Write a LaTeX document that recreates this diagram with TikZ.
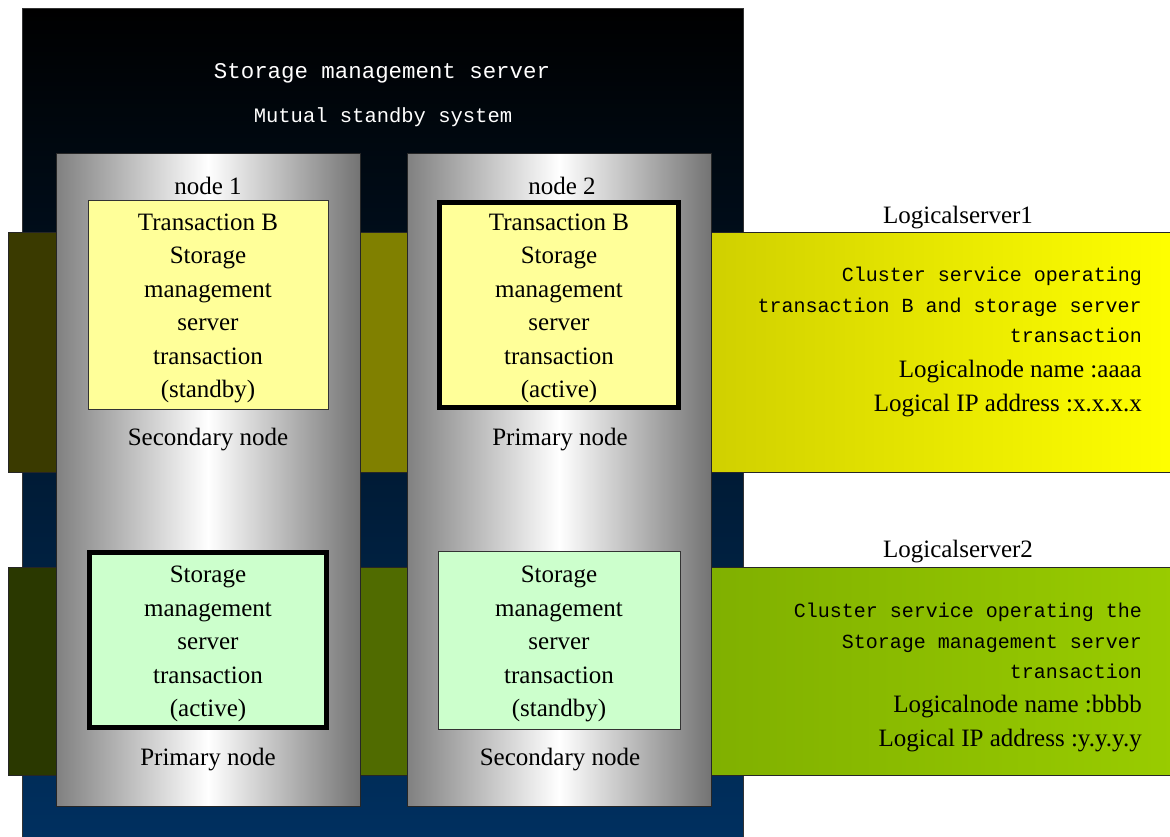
\documentclass[tikz,border=0pt]{standalone}
\usepackage{fontspec}
\setmainfont{Liberation Serif}
\setmonofont{Liberation Mono}
\usetikzlibrary{positioning}
\definecolor{bgtop}{RGB}{0,0,0}
\definecolor{bgmid}{RGB}{0,38,76}
\definecolor{bgbot}{RGB}{0,48,96}
\definecolor{colgray}{RGB}{128,128,128}
\definecolor{oliveA}{RGB}{58,58,0}
\definecolor{oliveB}{RGB}{128,128,0}
\definecolor{oliveC}{RGB}{208,208,0}
\definecolor{greenA}{RGB}{42,56,0}
\definecolor{greenB}{RGB}{80,107,0}
\definecolor{greenC}{RGB}{128,176,0}
\definecolor{greenD}{RGB}{153,204,0}
\definecolor{boxyellow}{RGB}{255,255,153}
\definecolor{boxgreen}{RGB}{204,255,204}
\newcommand\headfont{\ttfamily\fontsize{22.4}{26}\selectfont}
\newcommand\subfont{\ttfamily\fontsize{20.5}{24}\selectfont}
\newcommand\clufont{\ttfamily\fontsize{20}{30.5}\selectfont}
\newcommand\boxfont{\fontsize{25}{33.5}\selectfont}
\tikzset{
  server/.style={draw=black!80, line width=0.6pt, top color=bgtop, middle color=bgmid, bottom color=bgbot},
  band/.style={draw=black!85, line width=1pt},
  column/.style={draw=black!85, line width=1pt, left color=colgray, right color=colgray!90!black, middle color=white},
  trans/.style={draw=black!80, line width=1pt},
  active/.style={draw=black, line width=5pt},
  boxtext/.style={align=center, inner sep=0pt, font=\boxfont},
  lbl/.style={inner sep=0pt, font=\boxfont},
}
\begin{document}
\begin{tikzpicture}[x=1pt, y=-1pt]
  \useasboundingbox (0,0) rectangle (1170,836);
  % SERVER FRAME
  \draw[server] (22,8) rectangle (743,840);
  \node[text=white, font=\headfont] (srvname) at (382,73) {Storage management server};
  \node[text=white, font=\subfont] (srvmode) at (383,117) {Mutual standby system};
  % LOGICAL SERVER BANDS
  % -- band 1
  \draw[band, fill=oliveA] (8,232) rectangle (56,472);
  \draw[band, fill=oliveB] (360,232) rectangle (407,472);
  \draw[band, left color=oliveC, right color=yellow] (711,232) rectangle (1175,472);
  % -- band 2
  \draw[band, fill=greenA] (8,567) rectangle (56,775);
  \draw[band, fill=greenB] (360,567) rectangle (407,775);
  \draw[band, left color=greenC, right color=greenD] (711,567) rectangle (1175,775);
  % NODE COLUMNS
  \node[column, minimum width=304pt, minimum height=653pt] (col1) at (208,479.5) {};
  \node[column, minimum width=304pt, minimum height=653pt] (col2) at (559,479.5) {};
  \node[lbl] (col1name) at (208,186) {node 1};
  \node[lbl] (col2name) at (562,186) {node 2};
  % -- transaction B boxes
  \node[trans, fill=boxyellow, minimum width=240pt, minimum height=209pt] (tb1) at (208,304.5) {};
  \node[active, fill=boxyellow, minimum width=239pt, minimum height=205pt] (tb2) at (559,305) {};
  \node[boxtext] (tb1text) at (208,308.5)
    {Transaction B\\Storage\\management\\server\\transaction\\(standby)};
  \node[boxtext] (tb2text) at (559,308.5)
    {Transaction B\\Storage\\management\\server\\transaction\\(active)};
  \node[lbl] (tb1role) at (208,440) {Secondary node};
  \node[lbl] (tb2role) at (560,440) {Primary node};
  % -- storage server boxes
  \node[active, fill=boxgreen, minimum width=237pt, minimum height=175pt] (ss1) at (208,640) {};
  \node[trans, fill=boxgreen, minimum width=242pt, minimum height=178pt] (ss2) at (559,640) {};
  \node[boxtext] (ss1text) at (208,644)
    {Storage\\management\\server\\transaction\\(active)};
  \node[boxtext] (ss2text) at (559,644)
    {Storage\\management\\server\\transaction\\(standby)};
  \node[lbl] (ss1role) at (208,760) {Primary node};
  \node[lbl] (ss2role) at (560,760) {Secondary node};
  % LOGICAL SERVER TEXTS
  \node[lbl, font=\boxfont\fontsize{25}{30}\selectfont] (ls1) at (958,218) {Logicalserver1};
  \node[inner sep=0pt, anchor=east, align=right, font=\clufont] (ls1svc) at (1142,305)
    {Cluster service operating\\transaction B and storage server\\transaction};
  \node[inner sep=0pt, anchor=east, align=right, font=\boxfont\fontsize{25}{34}\selectfont] (ls1addr) at (1142,389)
    {Logicalnode name :aaaa\\Logical IP address :x.x.x.x};
  \node[lbl, font=\boxfont\fontsize{25}{30}\selectfont] (ls2) at (958,552) {Logicalserver2};
  \node[inner sep=0pt, anchor=east, align=right, font=\clufont] (ls2svc) at (1142,641)
    {Cluster service operating the\\Storage management server\\transaction};
  \node[inner sep=0pt, anchor=east, align=right, font=\boxfont\fontsize{25}{34}\selectfont] (ls2addr) at (1142,724)
    {Logicalnode name :bbbb\\Logical IP address :y.y.y.y};
\end{tikzpicture}
\end{document}
